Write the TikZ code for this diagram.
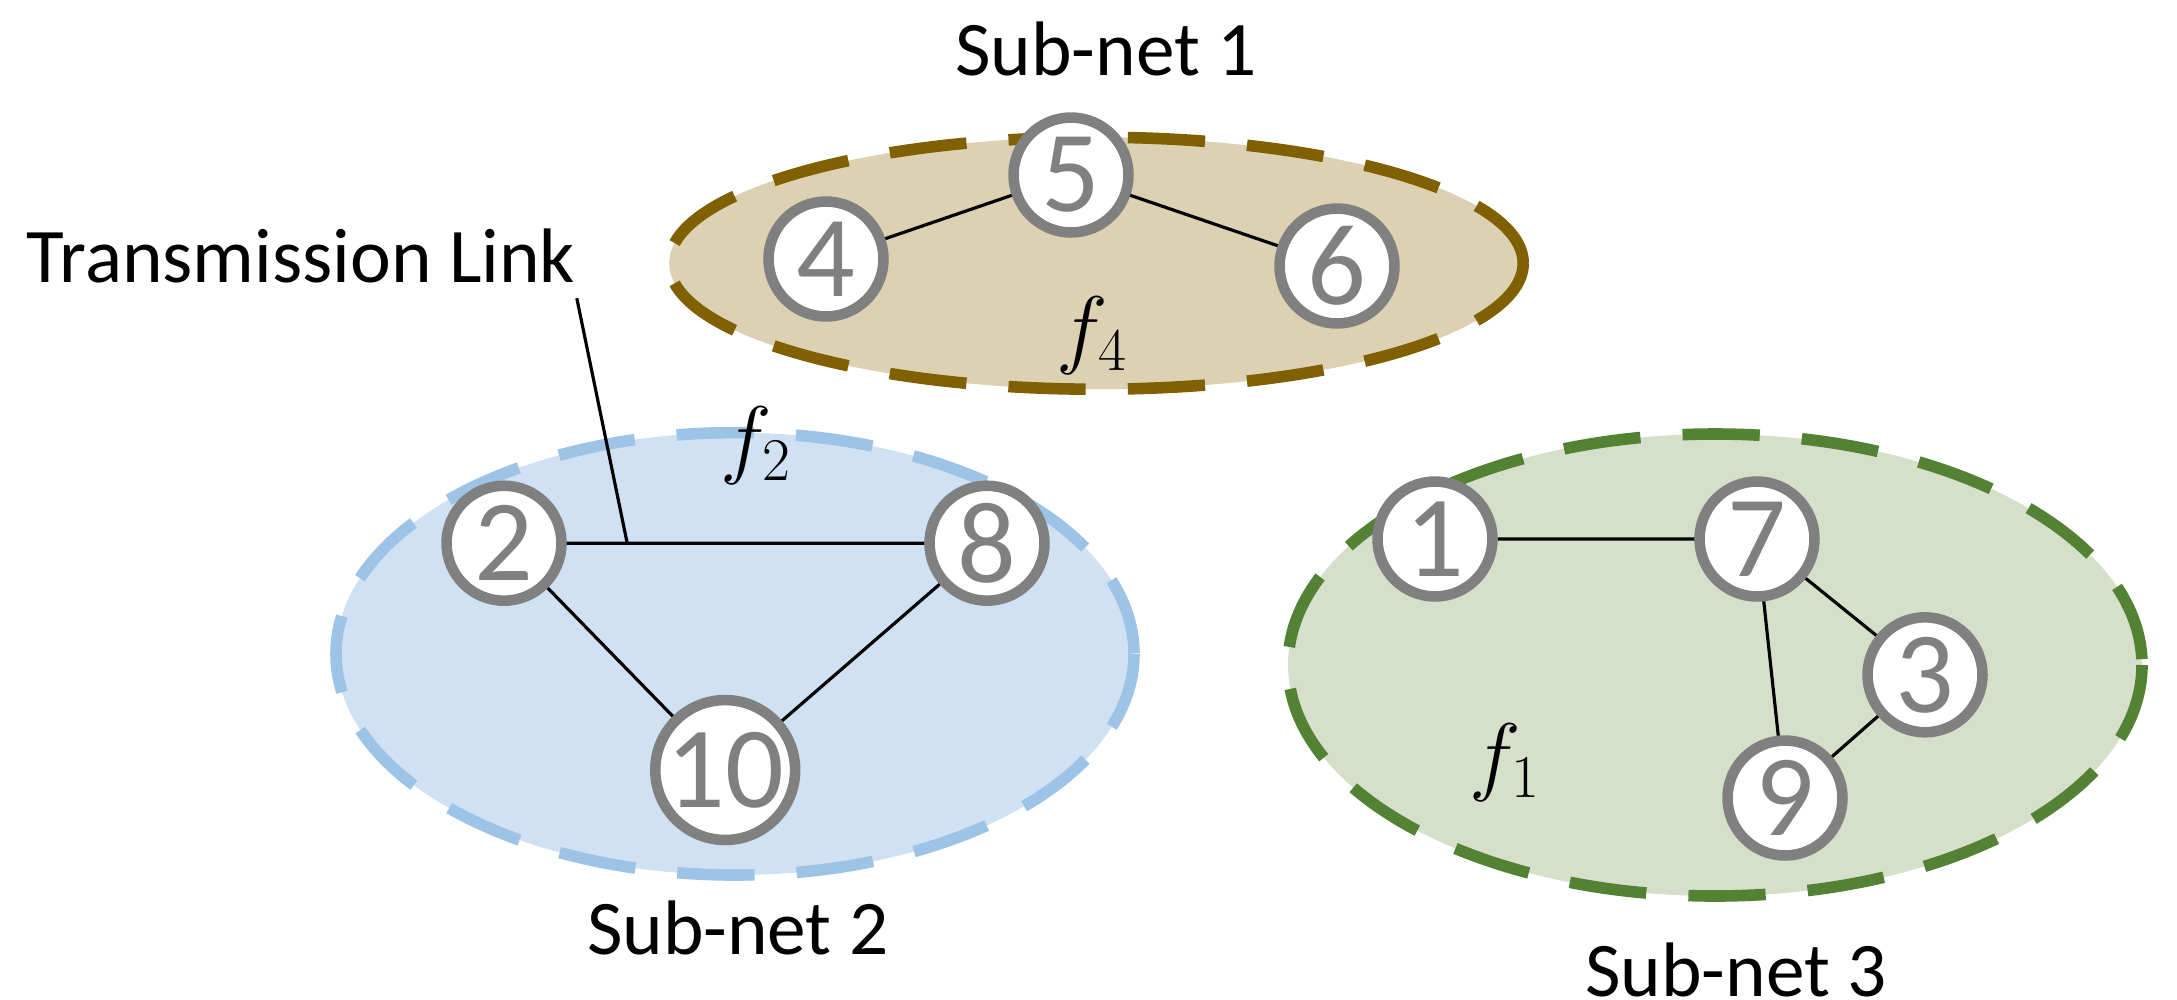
\documentclass[tikz,border=0pt]{standalone}
\usepackage{fontspec}
\setmainfont{Carlito}
\begin{document}
\begin{tikzpicture}[x=0.014cm,y=-0.014cm,
  nd/.style={circle,draw=nodegray,line width=3pt,fill=white,minimum size=1.15cm,inner sep=0pt,text=nodegray,font=\fontsize{33}{33}\selectfont},
  net/.style={line width=3.3pt,dash pattern=on 22pt off 12pt},
  lbl/.style={font=\fontsize{22}{24}\selectfont},
  fl/.style={font=\fontsize{26}{26}\selectfont},
  ed/.style={line width=0.9pt}]
\definecolor{nodegray}{RGB}{128,128,128}
\definecolor{bfill}{RGB}{221,209,180}\definecolor{bdraw}{RGB}{128,96,0}
\definecolor{lfill}{RGB}{208,225,243}\definecolor{ldraw}{RGB}{157,195,230}
\definecolor{gfill}{RGB}{214,223,202}\definecolor{gdraw}{RGB}{84,130,53}
\useasboundingbox (0,0) rectangle (1555,714);
\draw[net,fill=bfill,draw=bdraw] (783,188) ellipse [x radius=305,y radius=90];
\draw[net,fill=lfill,draw=ldraw] (525,467) ellipse [x radius=285,y radius=158];
\draw[net,fill=gfill,draw=gdraw] (1225,475) ellipse [x radius=305,y radius=165];
\node[nd] (n5) at (765,125) {5};
\node[nd] (n4) at (590,185) {4};
\node[nd] (n6) at (955,190) {6};
\node[nd] (n2) at (360,388) {2};
\node[nd] (n8) at (705,388) {8};
\node[nd] (n10) at (518,550) {10};
\node[nd] (n1) at (1025,385) {1};
\node[nd] (n7) at (1255,385) {7};
\node[nd] (n3) at (1375,482) {3};
\node[nd] (n9) at (1275,570) {9};
\draw[ed] (n4)--(n5) (n5)--(n6) (n2)--(n8) (n2)--(n10) (n10)--(n8) (n1)--(n7) (n7)--(n3) (n7)--(n9) (n9)--(n3);
\node[fl] (f4) at (780,240) {$f_4$};
\node[fl] (f2) at (540,318) {$f_2$};
\node[fl] (f1) at (1075,545) {$f_1$};
\node[lbl] (s1) at (790,35) {Sub-net 1};
\node[lbl] (s2) at (527,663) {Sub-net 2};
\node[lbl] (s3) at (1240,693) {Sub-net 3};
\node[lbl] (tl) at (215,183) {Transmission Link};
\coordinate (tlend) at (448,388);
\draw[ed] (412,213) -- (tlend);
\end{tikzpicture}
\end{document}
